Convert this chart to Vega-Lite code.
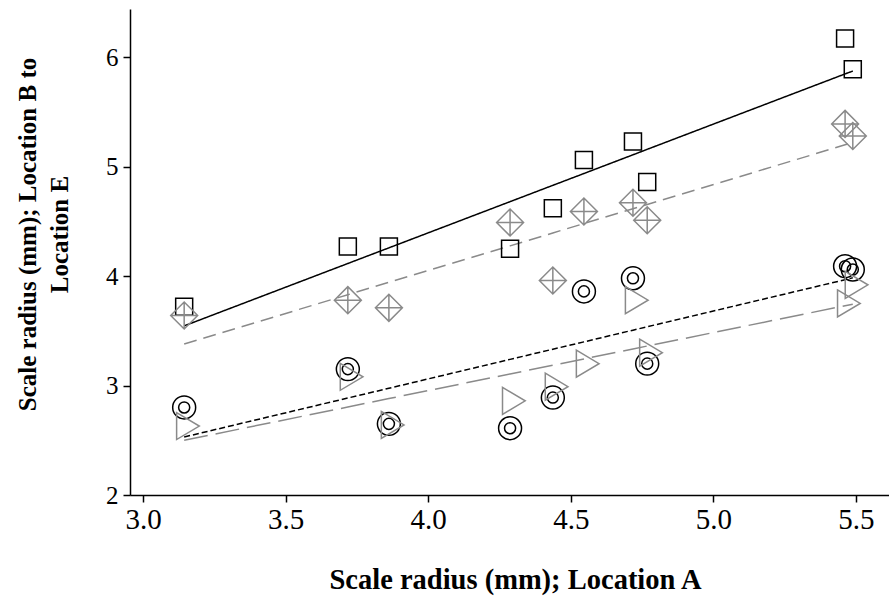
{
  "$schema": "https://vega.github.io/schema/vega-lite/v6.json",
  "width": 759,
  "height": 486,
  "autosize": {"type": "none"},
  "padding": {"left": 130, "top": 9, "right": 0, "bottom": 101},
  "background": "white",
  "config": {
    "view": {"stroke": null},
    "font": "Liberation Serif",
    "axis": {"grid": false, "domainColor": "black", "tickColor": "black", "labelColor": "black", "titleColor": "black", "domainWidth": 1.5, "tickWidth": 1.5, "labelFont": "Liberation Serif", "titleFont": "Liberation Serif"}
  },
  "data": {
    "values": [
      {"x": 3.144, "y": 3.72, "fit": 3.545, "series": "S1"},
      {"x": 3.718, "y": 4.27, "fit": 4.115, "series": "S1"},
      {"x": 3.862, "y": 4.27, "fit": 4.258, "series": "S1"},
      {"x": 4.287, "y": 4.25, "fit": 4.680, "series": "S1"},
      {"x": 4.437, "y": 4.62, "fit": 4.829, "series": "S1"},
      {"x": 4.546, "y": 5.06, "fit": 4.937, "series": "S1"},
      {"x": 4.718, "y": 5.23, "fit": 5.108, "series": "S1"},
      {"x": 4.768, "y": 4.86, "fit": 5.158, "series": "S1"},
      {"x": 5.462, "y": 6.17, "fit": 5.847, "series": "S1"},
      {"x": 5.489, "y": 5.89, "fit": 5.873, "series": "S1"},
      {"x": 3.144, "y": 3.64, "fit": 3.379, "series": "S2"},
      {"x": 3.718, "y": 3.78, "fit": 3.830, "series": "S2"},
      {"x": 3.862, "y": 3.71, "fit": 3.943, "series": "S2"},
      {"x": 4.287, "y": 4.49, "fit": 4.276, "series": "S2"},
      {"x": 4.437, "y": 3.96, "fit": 4.394, "series": "S2"},
      {"x": 4.546, "y": 4.59, "fit": 4.480, "series": "S2"},
      {"x": 4.718, "y": 4.67, "fit": 4.615, "series": "S2"},
      {"x": 4.768, "y": 4.51, "fit": 4.654, "series": "S2"},
      {"x": 5.462, "y": 5.39, "fit": 5.199, "series": "S2"},
      {"x": 5.489, "y": 5.28, "fit": 5.220, "series": "S2"},
      {"x": 3.144, "y": 2.80, "fit": 2.530, "series": "S3"},
      {"x": 3.718, "y": 3.15, "fit": 2.886, "series": "S3"},
      {"x": 3.862, "y": 2.65, "fit": 2.975, "series": "S3"},
      {"x": 4.287, "y": 2.61, "fit": 3.239, "series": "S3"},
      {"x": 4.437, "y": 2.89, "fit": 3.332, "series": "S3"},
      {"x": 4.546, "y": 3.86, "fit": 3.399, "series": "S3"},
      {"x": 4.718, "y": 3.98, "fit": 3.506, "series": "S3"},
      {"x": 4.768, "y": 3.20, "fit": 3.537, "series": "S3"},
      {"x": 5.462, "y": 4.09, "fit": 3.967, "series": "S3"},
      {"x": 5.489, "y": 4.06, "fit": 3.984, "series": "S3"},
      {"x": 3.144, "y": 2.63, "fit": 2.500, "series": "S4"},
      {"x": 3.718, "y": 3.08, "fit": 2.804, "series": "S4"},
      {"x": 3.862, "y": 2.64, "fit": 2.881, "series": "S4"},
      {"x": 4.287, "y": 2.86, "fit": 3.106, "series": "S4"},
      {"x": 4.437, "y": 2.99, "fit": 3.185, "series": "S4"},
      {"x": 4.546, "y": 3.20, "fit": 3.243, "series": "S4"},
      {"x": 4.718, "y": 3.78, "fit": 3.334, "series": "S4"},
      {"x": 4.768, "y": 3.30, "fit": 3.361, "series": "S4"},
      {"x": 5.462, "y": 3.75, "fit": 3.729, "series": "S4"},
      {"x": 5.489, "y": 3.92, "fit": 3.743, "series": "S4"}
    ]
  },
  "encoding": {
    "x": {"field": "x", "type": "quantitative", "scale": {"domain": [2.954, 5.616], "nice": false, "zero": false},
      "axis": {"title": "Scale radius (mm); Location A", "values": [3, 3.5, 4, 4.5, 5, 5.5], "format": ".1f", "labelFontSize": 29, "labelFlush": false, "tickSize": 7, "labelPadding": 3, "titleFontSize": 28.5, "titleFontWeight": "bold", "titleX": 385, "titleY": 93, "titleAlign": "center", "titleBaseline": "alphabetic"}},
    "color": {"field": "series", "type": "nominal", "scale": {"domain": ["S1", "S2", "S3", "S4"], "range": ["#000000", "#8a8a8a", "#000000", "#8a8a8a"]}, "legend": null}
  },
  "layer": [
    {
      "mark": {"type": "line", "strokeWidth": 1.5},
      "encoding": {
        "y": {"field": "fit", "type": "quantitative", "scale": {"domain": [2, 6.44], "nice": false, "zero": false},
          "axis": {"title": ["Scale radius (mm); Location B to", "Location E"], "values": [2, 3, 4, 5, 6], "labelFontSize": 25, "labelFlush": false, "tickSize": 7, "labelPadding": 5, "titleFontSize": 25, "titleFontWeight": "bold", "titleAngle": -90, "titleX": -95, "titleY": 225, "titleAlign": "center", "titleBaseline": "alphabetic", "titleLineHeight": 32}},
        "strokeDash": {"field": "series", "type": "nominal", "scale": {"domain": ["S1", "S2", "S3", "S4"], "range": [[1, 0], [13, 7], [6, 3], [24, 8]]}, "legend": null}
      }
    },
    {
      "mark": {"type": "point", "filled": false, "size": 729, "strokeWidth": 1.5, "opacity": 1},
      "encoding": {
        "y": {"field": "y", "type": "quantitative", "scale": {"domain": [2, 6.44], "nice": false, "zero": false},
          "axis": {"title": ["Scale radius (mm); Location B to", "Location E"], "values": [2, 3, 4, 5, 6], "labelFontSize": 25, "labelFlush": false, "tickSize": 7, "labelPadding": 5, "titleFontSize": 25, "titleFontWeight": "bold", "titleAngle": -90, "titleX": -95, "titleY": 225, "titleAlign": "center", "titleBaseline": "alphabetic", "titleLineHeight": 32}},
        "shape": {"field": "series", "type": "nominal", "scale": {"domain": ["S1", "S2", "S3", "S4"], "range": [
          "M-0.63,-0.63L0.63,-0.63L0.63,0.63L-0.63,0.63Z",
          "M-1,0L0,-1L1,0L0,1ZM-1,0L1,0M0,-1L0,1",
          "M0.85,0A0.85,0.85,0,1,1,-0.85,0A0.85,0.85,0,1,1,0.85,0ZM0.41,0A0.41,0.41,0,1,1,-0.41,0A0.41,0.41,0,1,1,0.41,0Z",
          "M-0.56,-1L1.12,0L-0.56,1Z"
        ]}, "legend": null}
      }
    }
  ]
}
